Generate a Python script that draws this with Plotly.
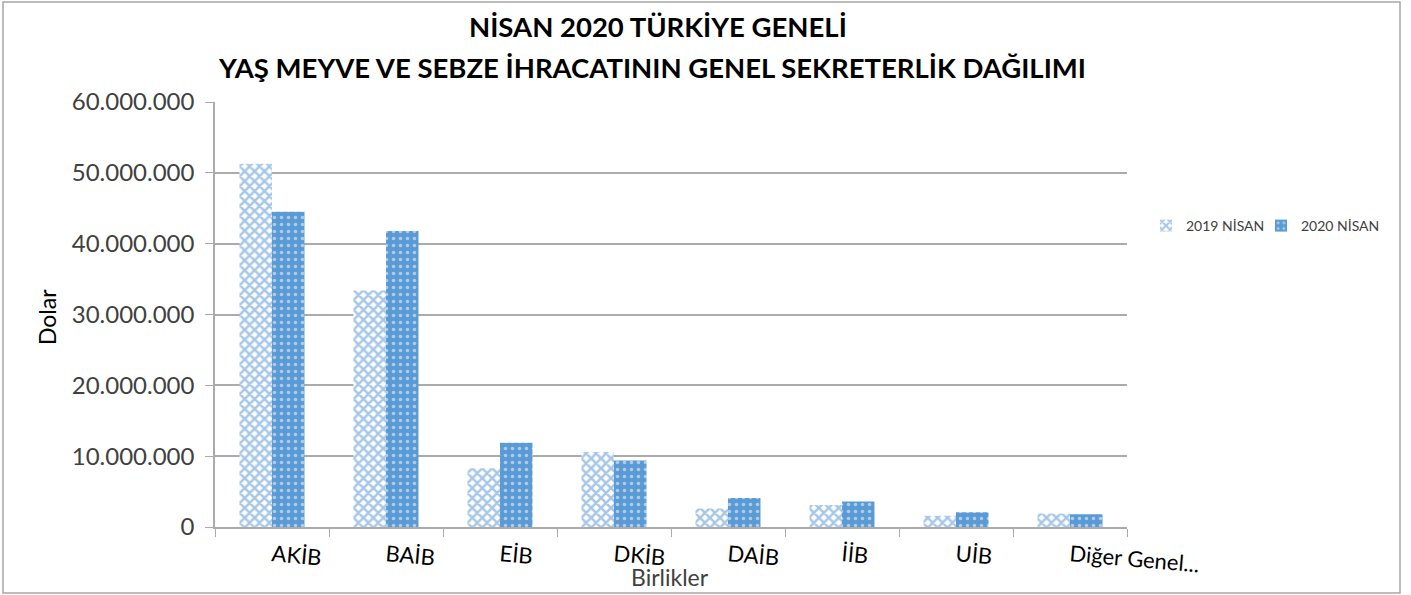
import plotly.graph_objects as go

categories = ["AKİB", "BAİB", "EİB", "DKİB", "DAİB", "İİB", "UİB", "Diğer Genel..."]
values_2019 = [51300000, 33400000, 8300000, 10600000, 2600000, 3100000, 1600000, 1900000]
values_2020 = [44500000, 41800000, 11900000, 9400000, 4100000, 3600000, 2100000, 1800000]
series_names = ["2019 NİSAN", "2020 NİSAN"]
y_ticks = [0, 10000000, 20000000, 30000000, 40000000, 50000000, 60000000]

BLUE = "#5B9BD5"
GRID = "#ABABAB"
TXT = "#404040"
FONT = "Lato"

fig = go.Figure()
fig.add_trace(go.Bar(
    x=categories, y=values_2019, name=series_names[0], legend="legend",
    marker=dict(color="white", line=dict(width=0),
                pattern=dict(shape="x", fgcolor="#4F8FD0", bgcolor="white", size=7, solidity=0.6)),
))
fig.add_trace(go.Bar(
    x=categories, y=values_2020, name=series_names[1], legend="legend2",
    marker=dict(color=BLUE, line=dict(width=0),
                pattern=dict(shape=".", fgcolor="white", bgcolor=BLUE, size=7, solidity=0.2)),
))

legend_common = dict(orientation="h", xanchor="left", yanchor="middle",
                     font=dict(size=14, color=TXT, family=FONT),
                     bgcolor="rgba(0,0,0,0)")

fig.update_layout(
    width=1411, height=595,
    margin=dict(l=215, r=284, t=102, b=68, autoexpand=False),
    paper_bgcolor="white", plot_bgcolor="white",
    barmode="group", bargap=0.43, bargroupgap=0,
    separators=",.",
    font=dict(family=FONT, color=TXT),
    showlegend=True,
    legend=dict(x=(1146 - 215) / 912, y=(527 - 226) / 425, **legend_common),
    legend2=dict(x=(1261 - 215) / 912, y=(527 - 226) / 425, **legend_common),
    xaxis=dict(
        type="category", tickson="boundaries", ticks="outside", ticklen=8,
        tickcolor=GRID, tickwidth=1, showline=True, linecolor=GRID, linewidth=1.5,
        tickangle=5, tickfont=dict(size=22, color="black", family=FONT),
        showgrid=False, ticklabelstandoff=6,
    ),
    yaxis=dict(
        range=[0, 60000000], tickvals=y_ticks, tickformat=",d",
        ticks="outside", ticklen=8, tickcolor=GRID, tickwidth=1,
        showline=True, linecolor=GRID, linewidth=1.5,
        showgrid=True, gridcolor=GRID, gridwidth=1.5,
        tickfont=dict(size=24, color=TXT, family=FONT), zeroline=False,
        ticklabelstandoff=6,
    ),
    shapes=[dict(type="rect", xref="paper", yref="paper", x0=-212/912, x1=1185/912,
                 y0=-66/425, y1=525/425, line=dict(color="#A6A6A6", width=1.5), layer="below")],
    annotations=[
        dict(text="<b>NİSAN 2020 TÜRKİYE GENELİ</b>", xref="paper", yref="paper",
             x=(658 - 215) / 912, y=(527 - 27) / 425, showarrow=False,
             font=dict(size=27.5, color="black", family=FONT), xanchor="center", yanchor="middle"),
        dict(text="<b>YAŞ MEYVE VE SEBZE İHRACATININ GENEL SEKRETERLİK DAĞILIMI</b>", xref="paper", yref="paper",
             x=(652 - 215) / 912, y=(527 - 67) / 425, showarrow=False,
             font=dict(size=27.5, color="black", family=FONT), xanchor="center", yanchor="middle"),
        dict(text="Dolar", xref="paper", yref="paper", x=(47 - 215) / 912, y=(527 - 317) / 425,
             textangle=-90, showarrow=False, font=dict(size=23, color="black", family=FONT),
             xanchor="center", yanchor="middle"),
        dict(text="Birlikler", xref="paper", yref="paper", x=(670 - 215) / 912, y=(527 - 577) / 425,
             showarrow=False, font=dict(size=23, color=TXT, family=FONT),
             xanchor="center", yanchor="middle"),
    ],
)

fig.write_html("out.html", config={"displayModeBar": False},
               post_script="document.body.style.margin='0';document.body.style.overflow='hidden';")
